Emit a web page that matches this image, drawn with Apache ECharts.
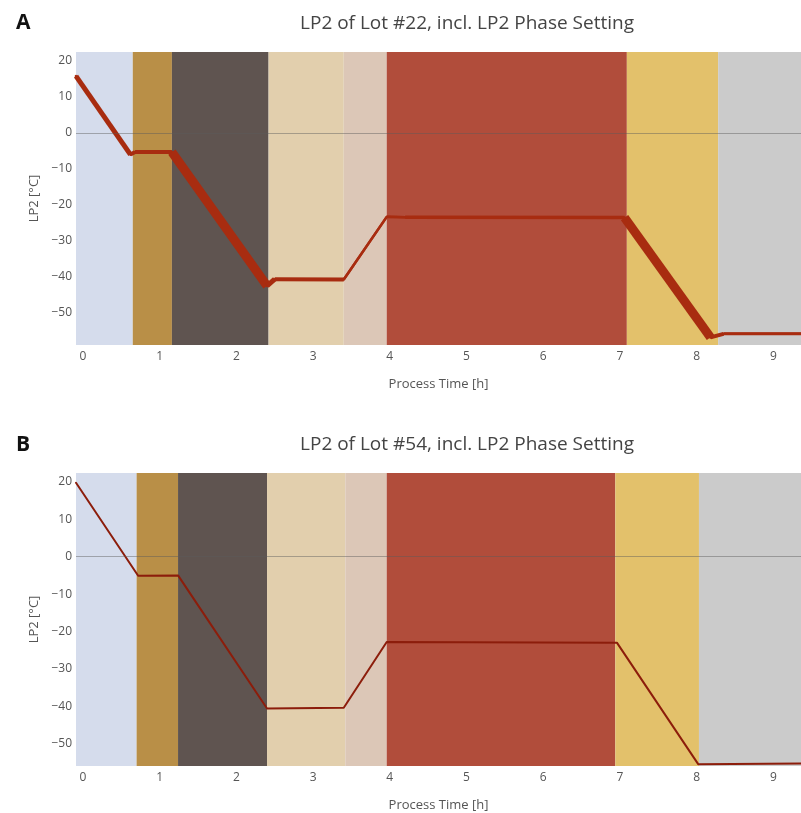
<!DOCTYPE html>
<html><head><meta charset="utf-8">
<script src="https://cdn.jsdelivr.net/npm/echarts@6/dist/echarts.min.js"></script>
<style>html,body{margin:0;padding:0;background:#fff}#c{width:801px;height:813px}</style>
</head><body><div id="c"></div>
<script>
// ---- data ----
const xTicks = [0, 1, 2, 3, 4, 5, 6, 7, 8, 9];
const yTicksA = [20, 10, 0, -10, -20, -30, -40, -50];
const yTicksB = [20, 10, 0, -10, -20, -30, -40, -50];

const titleA = "LP2 of Lot #22, incl. LP2 Phase Setting";
const titleB = "LP2 of Lot #54, incl. LP2 Phase Setting";

// phase boundaries (hours)
const phaseBoundsA = [-0.09, 0.65, 1.16, 2.42, 3.40, 3.96, 7.09, 8.28, 9.36];
const phaseBoundsB = [-0.09, 0.70, 1.24, 2.40, 3.42, 3.96, 6.94, 8.03, 9.36];

// LP2 temperature (°C) vs process time (h)
const timeA = [-0.09, 0.62, 0.68, 1.16, 2.40, 2.50, 3.40, 3.96, 4.20, 7.06, 8.18, 8.35, 9.36];
const tempA = [15.8, -6.0, -5.3, -5.3, -42.5, -40.6, -40.7, -23.3, -23.4, -23.5, -56.8, -55.8, -55.8];

const timeB = [-0.09, 0.72, 1.24, 2.40, 3.40, 3.96, 6.96, 8.02, 9.36];
const tempB = [19.8, -5.1, -5.0, -40.6, -40.4, -22.8, -23.0, -55.5, -55.3];

// ---- styles ----
const phaseColors = ['#d5dcec', '#b98f47', '#5f5450', '#e2cfad', '#dcc7b7', '#b14d3b', '#e3c16b', '#cbcbcb'];
const segWidthA = [5, 4, 4, 9, 5, 4, 2.5, 2.5, 3.5, 9, 4, 3];
const lineColorA = '#a82c10';
const lineColorB = '#8c1d0b';
const fontFam = '"Open Sans", "Noto Sans", sans-serif';

const fmt = v => (v < 0 ? '\u2212' + Math.abs(v) : String(v));

function bands(bounds, idx) {
  const d = [];
  for (let i = 0; i < bounds.length - 1; i++) {
    d.push([{ xAxis: bounds[i], itemStyle: { color: phaseColors[i], opacity: 1 } }, { xAxis: bounds[i + 1] }]);
  }
  return {
    type: 'line', xAxisIndex: idx, yAxisIndex: idx, data: [], z: 1, silent: true,
    markArea: { silent: true, data: d },
    markLine: { silent: true, symbol: 'none', label: { show: false },
      lineStyle: { color: 'rgba(90,90,90,0.45)', width: 1, type: 'solid' },
      data: [{ yAxis: 0 }] }
  };
}

function fullLine(times, temps, width, color, idx) {
  return {
    type: 'line', xAxisIndex: idx, yAxisIndex: idx, z: 3, showSymbol: false, silent: true,
    data: times.map((t, i) => [t, temps[i]]),
    lineStyle: { color: color, width: width, cap: 'round', join: 'round' }
  };
}

function segments(times, temps, widths, color, idx) {
  const out = [];
  for (let i = 0; i < times.length - 1; i++) {
    out.push({
      type: 'line', xAxisIndex: idx, yAxisIndex: idx, z: 3, showSymbol: false, silent: true,
      data: [[times[i], temps[i]], [times[i + 1], temps[i + 1]]],
      lineStyle: { color: color, width: widths[i], cap: 'butt', join: 'round' }
    });
  }
  return out;
}

function xAx(idx, bounds) {
  return {
    type: 'value', gridIndex: idx, min: bounds[0], max: bounds[bounds.length - 1],
    name: 'Process Time [h]', nameLocation: 'middle', nameGap: 33,
    nameTextStyle: { color: '#555', fontSize: 13, fontFamily: fontFam },
    axisLine: { show: false }, axisTick: { show: false }, splitLine: { show: false },
    axisLabel: { customValues: xTicks, formatter: fmt, color: '#555', fontSize: 12, fontFamily: fontFam, margin: 6 }
  };
}
function yAx(idx, min, max, ticks) {
  return {
    type: 'value', gridIndex: idx, min: min, max: max,
    name: 'LP2 [°C]', nameLocation: 'middle', nameGap: 30,
    nameTextStyle: { color: '#555', fontSize: 13, fontFamily: fontFam },
    axisLine: { show: false }, axisTick: { show: false }, splitLine: { show: false },
    axisLabel: { customValues: ticks, formatter: fmt, color: '#555', fontSize: 12, fontFamily: fontFam, margin: 4 }
  };
}

const chart = echarts.init(document.getElementById('c'), null, { renderer: 'canvas' });
chart.setOption({
  animation: false,
  backgroundColor: '#fff',
  title: [
    { text: titleA, left: 462, top: 9, textAlign: 'center', textStyle: { fontFamily: fontFam, fontSize: 19, fontWeight: 'normal', color: '#444' } },
    { text: titleB, left: 462, top: 430, textAlign: 'center', textStyle: { fontFamily: fontFam, fontSize: 19, fontWeight: 'normal', color: '#444' } },
    { text: 'A', left: 11, top: 8, textStyle: { fontFamily: fontFam, fontSize: 21, fontWeight: 'bold', color: '#111' } },
    { text: 'B', left: 11, top: 430, textStyle: { fontFamily: fontFam, fontSize: 21, fontWeight: 'bold', color: '#111' } }
  ],
  grid: [
    { left: 76, right: 0, top: 52, height: 293 },
    { left: 76, right: 0, top: 473, height: 294 }
  ],
  xAxis: [xAx(0, phaseBoundsA), xAx(1, phaseBoundsB)],
  yAxis: [yAx(0, -58.9, 22.5, yTicksA), yAx(1, -56, 22.4, yTicksB)],
  series: [
    bands(phaseBoundsA, 0),
    bands(phaseBoundsB, 1),
    fullLine(timeA, tempA, 2.5, lineColorA, 0),
    ...segments(timeA, tempA, segWidthA, lineColorA, 0),
    fullLine(timeB, tempB, 2, lineColorB, 1)
  ]
});
</script></body></html>
